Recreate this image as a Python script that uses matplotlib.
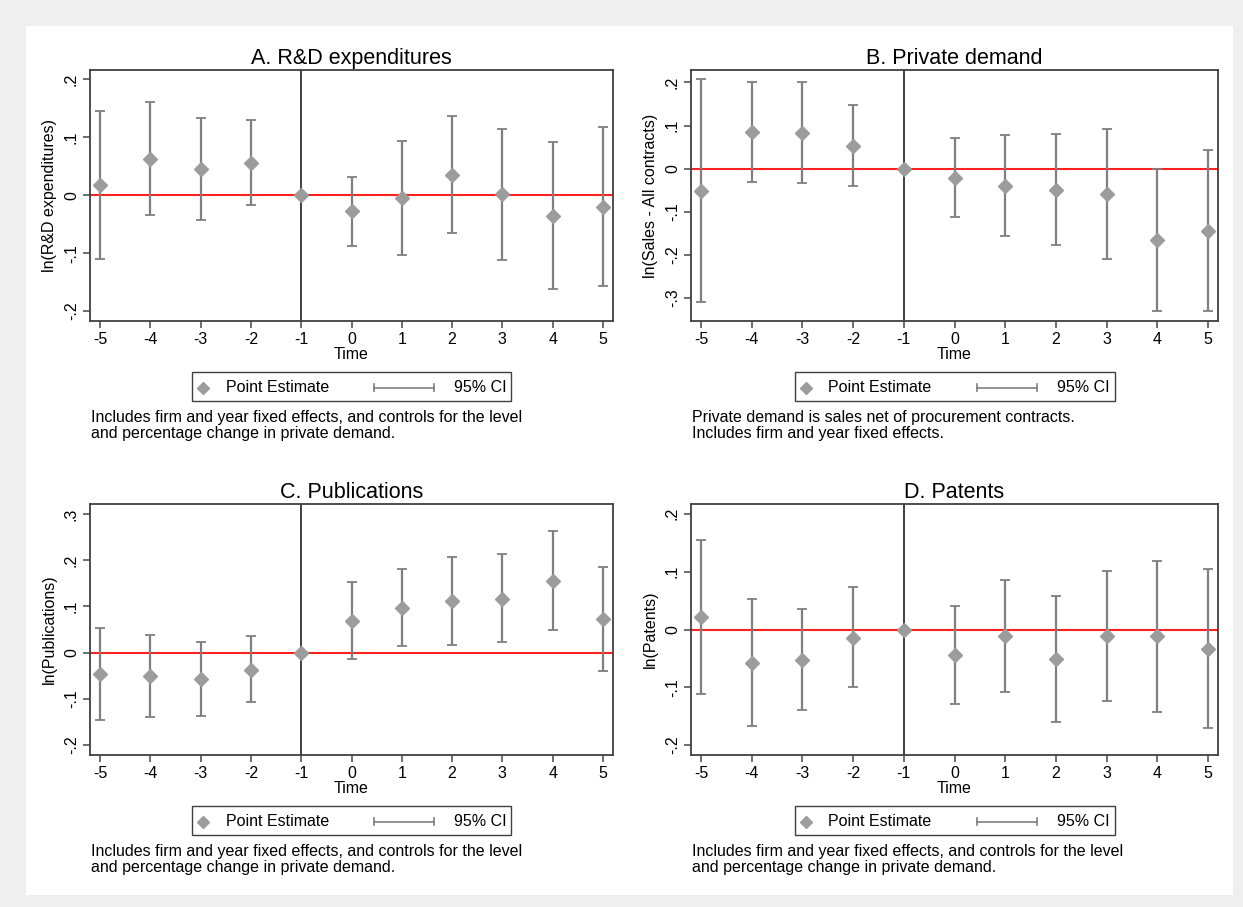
import matplotlib
matplotlib.use("Agg")
import matplotlib.pyplot as plt
from matplotlib.lines import Line2D
from matplotlib.patches import Rectangle

plt.rcParams['font.family'] = ['Liberation Sans', 'DejaVu Sans']

time = [-5, -4, -3, -2, -1, 0, 1, 2, 3, 4, 5]

# Panel A: R&D expenditures
a_est = [0.017, 0.063, 0.046, 0.056, 0.0, -0.028, -0.005, 0.035, 0.002, -0.036, -0.020]
a_lo = [-0.110, -0.034, -0.042, -0.017, 0.0, -0.087, -0.103, -0.066, -0.111, -0.162, -0.157]
a_hi = [0.145, 0.160, 0.134, 0.129, 0.0, 0.032, 0.094, 0.137, 0.115, 0.091, 0.117]

# Panel B: Private demand
b_est = [-0.052, 0.084, 0.083, 0.053, 0.0, -0.021, -0.040, -0.050, -0.060, -0.166, -0.145]
b_lo = [-0.311, -0.032, -0.034, -0.040, 0.0, -0.112, -0.156, -0.178, -0.211, -0.330, -0.331]
b_hi = [0.208, 0.201, 0.200, 0.147, 0.0, 0.071, 0.077, 0.081, 0.091, 0.0, 0.044]

# Panel C: Publications
c_est = [-0.047, -0.050, -0.058, -0.037, 0.0, 0.068, 0.097, 0.112, 0.117, 0.156, 0.072]
c_lo = [-0.146, -0.140, -0.137, -0.107, 0.0, -0.014, 0.014, 0.017, 0.022, 0.050, -0.040]
c_hi = [0.053, 0.039, 0.023, 0.035, 0.0, 0.152, 0.181, 0.208, 0.214, 0.263, 0.185]

# Panel D: Patents
d_est = [0.022, -0.058, -0.052, -0.014, 0.0, -0.044, -0.011, -0.051, -0.012, -0.012, -0.034]
d_lo = [-0.111, -0.166, -0.139, -0.100, 0.0, -0.128, -0.108, -0.160, -0.124, -0.142, -0.171]
d_hi = [0.154, 0.052, 0.036, 0.074, 0.0, 0.040, 0.086, 0.058, 0.101, 0.119, 0.104]

titles = ["A. R&D expenditures", "B. Private demand", "C. Publications", "D. Patents"]
ylabels = ["ln(R&D expenditures)", "ln(Sales - All contracts)", "ln(Publications)", "ln(Patents)"]
yticks = [[-0.2, -0.1, 0, 0.1, 0.2],
          [-0.3, -0.2, -0.1, 0, 0.1, 0.2],
          [-0.2, -0.1, 0, 0.1, 0.2, 0.3],
          [-0.2, -0.1, 0, 0.1, 0.2]]
ylims = [(-0.217, 0.216), (-0.354, 0.229), (-0.222, 0.322), (-0.217, 0.217)]
notes = ["Includes firm and year fixed effects, and controls for the level\nand percentage change in private demand.",
         "Private demand is sales net of procurement contracts.\nIncludes firm and year fixed effects.",
         "Includes firm and year fixed effects, and controls for the level\nand percentage change in private demand.",
         "Includes firm and year fixed effects, and controls for the level\nand percentage change in private demand."]
ticklabels_fmt = {-0.3: "-.3", -0.2: "-.2", -0.1: "-.1", 0: "0", 0.1: ".1", 0.2: ".2", 0.3: ".3"}

series = [(a_est, a_lo, a_hi), (b_est, b_lo, b_hi), (c_est, c_lo, c_hi), (d_est, d_lo, d_hi)]

W, H = 1243, 907
fig = plt.figure(figsize=(W / 100, H / 100), dpi=100)
fig.patch.set_facecolor('#efefef')
fig.add_artist(Rectangle((26 / W, 1 - 895 / H), (1233 - 26) / W, (895 - 26) / H,
                         transform=fig.transFigure, facecolor='white', edgecolor='none', zorder=0))

# plot boxes in pixels: left, top, right, bottom
boxes = [(90, 70, 613, 321), (691, 70, 1218, 321), (90, 504, 613, 755), (691, 504, 1218, 755)]

est_color = '#9c9c9c'
ci_color = '#7f7f7f'
frame_color = '#404040'
fs = 11.5

def fx(px):
    return px / W

def fy(py):
    return 1 - py / H

for i, (box, (est, lo, hi)) in enumerate(zip(boxes, series)):
    l, t, r, b = box
    ax = fig.add_axes([fx(l), fy(b), (r - l) / W, (b - t) / H])
    yerr_lo = [e - lw for e, lw in zip(est, lo)]
    yerr_hi = [h - e for e, h in zip(est, hi)]
    ax.axhline(0, color='#ff2020', lw=1.5, zorder=1)
    ax.axvline(-1, color='#202020', lw=1.2, zorder=1)
    ax.errorbar(time, est, yerr=[yerr_lo, yerr_hi], fmt='none', ecolor=ci_color,
                elinewidth=1.6, capsize=3.5, capthick=1.3, zorder=2)
    ax.plot(time, est, linestyle='none', marker='D', markersize=7,
            color=est_color, markeredgecolor=est_color, zorder=3)
    ax.set_xlim(-5.2, 5.2)
    ax.set_ylim(*ylims[i])
    ax.set_xticks(time)
    ax.set_xticklabels([str(v) for v in time], fontsize=fs)
    ax.set_yticks(yticks[i])
    ax.set_yticklabels([ticklabels_fmt[v] for v in yticks[i]], fontsize=fs,
                       rotation=90, va='center')
    ax.tick_params(axis='both', direction='out', length=5, width=1.2, color='#555555', pad=3)
    for s in ax.spines.values():
        s.set_color(frame_color)
        s.set_linewidth(1.3)
    ax.set_xlabel("Time", fontsize=fs, labelpad=0)
    ax.set_ylabel(ylabels[i], fontsize=fs, labelpad=5)
    ax.set_title(titles[i], fontsize=15.5, pad=4)

    # legend box
    cx = (l + r) / 2
    ly_top = b + 51
    ly_bot = b + 80
    lw_box = 320
    fig.add_artist(Rectangle((fx(cx - lw_box / 2), fy(ly_bot)), lw_box / W, (ly_bot - ly_top) / H,
                             transform=fig.transFigure, facecolor='white', edgecolor='#404040', lw=1.0))
    ymid = (ly_top + ly_bot) / 2 + 1
    x0 = cx - lw_box / 2
    fig.add_artist(Line2D([fx(x0 + 11)], [fy(ymid)], transform=fig.transFigure, marker='D',
                          markersize=6.5, color=est_color, linestyle='none'))
    fig.text(fx(x0 + 34), fy(ymid), "Point Estimate", fontsize=fs, va='center', ha='left')
    fig.add_artist(Line2D([fx(x0 + 182), fx(x0 + 242)], [fy(ymid), fy(ymid)],
                          transform=fig.transFigure, color=ci_color, lw=1.2))
    for xc in (x0 + 182, x0 + 242):
        fig.add_artist(Line2D([fx(xc), fx(xc)], [fy(ymid - 3.5), fy(ymid + 3.5)],
                              transform=fig.transFigure, color=ci_color, lw=1.2))
    fig.text(fx(x0 + 315), fy(ymid), "95% CI", fontsize=fs, va='center', ha='right')

    # note
    fig.text(fx(l + 1), fy(b + 89), notes[i], fontsize=fs, va='top', ha='left', linespacing=1.1)

fig.savefig("out.png", dpi=100, facecolor=fig.get_facecolor())
